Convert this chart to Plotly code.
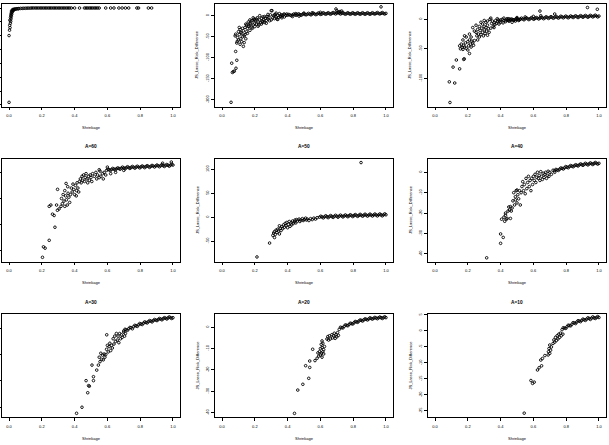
import plotly.graph_objects as go

# ---------------- data ----------------
titles = ["", "", "", "A=60", "A=50", "A=40", "A=30", "A=20", "A=10"]
x_label = "Shrinkage"
y_label = "JS_Lasso_Risk_Difference"

x_ticks = [0.0, 0.2, 0.4, 0.6, 0.8, 1.0]
x_tick_text = ["0.0", "0.2", "0.4", "0.6", "0.8", "1.0"]

# left column tick labels are outside the visible picture
y_ticks_p1 = [0, -100, -200, -300, -400, -500, -600, -700]
y_ticks_p2 = [0, -50, -100, -150, -200]
y_ticks_p3 = [0, -50, -100]
y_ticks_p4 = [0, -20, -40, -60]
y_ticks_p5 = [100, 50, 0, -50]
y_ticks_p6 = [0, -10, -20, -30, -40]
y_ticks_p7 = [0, -10, -20, -30]
y_ticks_p8 = [0, -10, -20, -30, -40]
y_ticks_p9 = [5, 0, -5, -10, -15, -20, -25]

# (shrinkage, risk difference) pairs
pts_p1 = [(0.0, -681), (0.0, -199), (0.003, -160), (0.006, -142), (0.004, -125), (0.008, -110),
          (0.01, -96), (0.005, -88), (0.012, -78), (0.009, -68), (0.014, -60), (0.011, -52),
          (0.016, -45), (0.013, -38), (0.018, -32), (0.02, -26), (0.015, -22), (0.024, -18),
          (0.021, -13), (0.028, -15), (0.026, -9), (0.032, -11), (0.036, -7), (0.042, -8),
          (0.048, -5), (0.055, -6), (0.06, -4), (0.07, -3), (0.08, -3), (0.09, -2), (0.1, -2),
          (0.11, -1), (0.12, -1), (0.13, -1), (0.14, 0), (0.15, 0), (0.16, 0), (0.17, 0),
          (0.18, 0), (0.19, 0), (0.2, 0), (0.21, 0), (0.22, 0), (0.23, 0), (0.24, 0), (0.25, 0),
          (0.26, 0), (0.27, 0), (0.28, 0), (0.29, 0), (0.3, 0), (0.31, 0), (0.32, 0), (0.33, 0),
          (0.34, 0), (0.35, 0), (0.36, 0), (0.37, 0), (0.38, 0), (0.40, 0), (0.43, 0), (0.46, 0),
          (0.47, 0), (0.48, 0), (0.49, 0), (0.50, 0), (0.51, 0), (0.52, 0), (0.53, 0), (0.54, 0),
          (0.55, 0), (0.59, 0), (0.62, 0), (0.64, 0), (0.67, 0), (0.69, 0), (0.71, 0), (0.73, 0),
          (0.78, 0), (0.79, 0), (0.85, 0), (0.87, 0)]

pts_p2 = [(0.055, -206), (0.059, -113), (0.063, -135), (0.069, -133), (0.075, -132), (0.085, -125),
          (0.09, -106), (0.083, -85), (0.08, -48), (0.083, -44), (0.09, -65), (0.093, -61),
          (0.095, -52), (0.1, -38), (0.1, -58), (0.105, -45), (0.11, -68), (0.11, -33),
          (0.115, -55), (0.12, -42), (0.12, -62), (0.125, -50), (0.13, -73), (0.13, -36),
          (0.135, -64), (0.14, -28), (0.14, -45), (0.145, -55), (0.15, -38), (0.15, -22),
          (0.155, -30), (0.16, -15), (0.165, -25), (0.17, -35), (0.17, -10), (0.175, -20),
          (0.18, -28), (0.185, -12), (0.19, -22), (0.195, -8), (0.2, -18), (0.2, -26),
          (0.205, -12), (0.21, -20), (0.215, -5), (0.22, -15), (0.225, -22), (0.23, 0),
          (0.23, -10), (0.235, -17), (0.24, -6), (0.245, -13), (0.25, -3), (0.255, -10),
          (0.26, -16), (0.265, -6), (0.27, -11), (0.275, -2), (0.28, -8), (0.285, -4),
          (0.29, -12), (0.295, 2), (0.30, 12), (0.305, 12), (0.31, -5), (0.315, 0), (0.32, -7),
          (0.325, 3), (0.33, -3), (0.335, -8), (0.34, 1), (0.345, -4), (0.35, 5), (0.355, -2),
          (0.36, 2), (0.365, -5), (0.37, 0), (0.375, 3), (0.38, -3), (0.39, 1), (0.395, 4),
          (0.105, -28), (0.115, -40), (0.125, -30), (0.135, -48), (0.145, -20), (0.155, -42),
          (0.16, -25), (0.17, -18), (0.18, -12), (0.185, -30), (0.19, -5), (0.2, -10), (0.21, -8),
          (0.22, -25), (0.24, -20), (0.25, -15), (0.26, -2), (0.27, -18), (0.28, 3), (0.3, -10),
          (0.32, 2), (0.34, -9), (0.36, -1), (0.38, 4), (0.33, 6),
          (0.40, 1), (0.415, 1.5), (0.43, 2), (0.445, 2), (0.46, 2.5), (0.475, 2.5), (0.49, 3),
          (0.505, 3), (0.52, 3.5), (0.535, 3.5), (0.55, 4), (0.565, 4), (0.58, 4), (0.595, 4.5),
          (0.61, 4.5), (0.625, 5), (0.64, 5), (0.655, 5), (0.67, 5.5), (0.685, 6), (0.70, 6),
          (0.715, 6), (0.73, 5.5), (0.745, 5), (0.76, 5), (0.775, 5), (0.79, 5), (0.805, 5),
          (0.82, 5), (0.835, 5), (0.85, 5), (0.865, 5), (0.88, 5), (0.895, 5), (0.91, 5),
          (0.925, 5), (0.94, 5.5), (0.955, 5.5), (0.97, 5.5), (0.985, 5.5), (1.0, 5.5),
          (0.4075, 3), (0.4225, 0), (0.4375, 4), (0.4525, 1), (0.4675, 4.5), (0.4825, 1),
          (0.4975, 5), (0.5125, 2), (0.5275, 5.5), (0.5425, 2), (0.5575, 6), (0.5725, 2.5),
          (0.5875, 6.5), (0.6025, 3), (0.6175, 7), (0.6325, 3.5), (0.6475, 7), (0.6625, 3.5),
          (0.6775, 7.5), (0.6925, 4), (0.7075, 8), (0.7225, 4), (0.7375, 7), (0.7525, 3.5),
          (0.7675, 7), (0.7825, 3.5), (0.7975, 7), (0.8125, 3.5), (0.8275, 7), (0.8425, 3.5),
          (0.8575, 7), (0.8725, 3.5), (0.8875, 7), (0.9025, 3.5), (0.9175, 7), (0.9325, 4),
          (0.9475, 7.5), (0.9625, 4), (0.9775, 7.5), (0.9925, 4),
          (0.695, 16), (0.70, 12), (0.72, 10), (0.73, 11), (0.71, 9), (0.97, 21), (0.5, 6),
          (0.55, 7), (0.6, 8), (0.45, 5), (0.43, -2), (0.47, -1)]

pts_p3 = [(0.091, -141), (0.087, -106), (0.12, -108), (0.11, -81), (0.13, -69), (0.15, -84),
          (0.175, -68), (0.178, -67), (0.21, -58), (0.15, -45), (0.155, -50), (0.16, -42),
          (0.165, -48), (0.17, -51), (0.175, -44), (0.18, -47), (0.185, -40), (0.19, -49),
          (0.18, -28), (0.21, -25), (0.2, -38), (0.205, -45), (0.21, -35), (0.215, -42),
          (0.22, -47), (0.225, -37), (0.23, -40), (0.235, -44), (0.24, -36), (0.23, -14),
          (0.25, -22), (0.255, -28), (0.26, -17), (0.265, -25), (0.27, -30), (0.275, -19),
          (0.28, -26), (0.285, -15), (0.29, -22), (0.295, -28), (0.30, -18), (0.305, -24),
          (0.31, -14), (0.315, -20), (0.32, -27), (0.325, -16), (0.33, -22), (0.29, -8),
          (0.30, -12), (0.31, -5), (0.32, -10), (0.335, 0), (0.34, -15), (0.345, -7), (0.35, -3),
          (0.355, -12), (0.36, -6), (0.365, -9), (0.37, -2), (0.375, -7), (0.38, -4), (0.385, -1),
          (0.39, -8), (0.395, -3), (0.40, -5), (0.41, 0), (0.415, -6), (0.42, -2), (0.43, -4),
          (0.44, 1), (0.45, -3), (0.46, 0), (0.47, -5), (0.48, -1), (0.49, -3), (0.50, 1),
          (0.51, -2), (0.52, 0),
          (0.17, -35), (0.19, -30), (0.2, -52), (0.22, -30), (0.24, -20), (0.25, -10), (0.26, -35),
          (0.27, -12), (0.28, -5), (0.3, -2), (0.32, -3), (0.34, 2), (0.36, -14), (0.38, 1),
          (0.4, -1), (0.42, 2), (0.45, 1),
          (0.43, -2), (0.445, -1.5), (0.46, -1), (0.475, -0.5), (0.49, 0),
          (0.505, 0), (0.52, 0.5), (0.535, 0.5), (0.55, 1), (0.565, 1), (0.58, 1), (0.595, 1.5),
          (0.61, 1.5), (0.625, 2), (0.64, 2), (0.655, 2.5), (0.67, 2.5), (0.685, 3), (0.70, 3),
          (0.715, 3), (0.73, 3.5), (0.745, 3.5), (0.76, 3.5), (0.775, 4), (0.79, 4), (0.805, 4),
          (0.82, 4), (0.835, 4.5), (0.85, 4.5), (0.865, 4.5), (0.88, 4.5), (0.895, 5), (0.91, 5),
          (0.925, 5), (0.94, 5), (0.955, 5.5), (0.97, 5.5), (0.985, 5.5), (1.0, 5.5),
          (0.4375, -0.3), (0.4525, -2.7), (0.4675, 0.5), (0.4825, -1.7), (0.4975, 1.5),
          (0.5125, -1.2), (0.5275, 2), (0.5425, -0.8), (0.5575, 2.5), (0.5725, -0.5),
          (0.5875, 2.8), (0.6025, 0), (0.6175, 3), (0.6325, 0.5), (0.6475, 3.5), (0.6625, 1),
          (0.6775, 4.2), (0.6925, 1.5), (0.7075, 4.5), (0.7225, 1.8), (0.7375, 5), (0.7525, 2),
          (0.7675, 5.2), (0.7825, 2.5), (0.7975, 5.5), (0.8125, 2.5), (0.8275, 5.7), (0.8425, 3),
          (0.8575, 6), (0.8725, 3), (0.8875, 6.2), (0.9025, 3.5), (0.9175, 6.5), (0.9325, 3.5),
          (0.9475, 6.7), (0.9625, 4), (0.9775, 7), (0.9925, 4),
          (0.64, 14), (0.73, 9), (0.645, 6), (0.93, 20), (0.99, 17), (0.5, 3), (0.55, 4), (0.6, 5)]

pts_p4 = [(0.204, -65), (0.21, -57), (0.22, -58), (0.245, -52), (0.28, -42), (0.245, -26),
          (0.255, -25), (0.265, -32), (0.275, -33), (0.295, -29), (0.305, -28), (0.317, -26),
          (0.296, -13), (0.29, -25), (0.32, -20), (0.325, -24), (0.33, -17), (0.335, -22),
          (0.34, -26), (0.345, -18), (0.35, -21), (0.355, -25), (0.36, -16), (0.365, -19),
          (0.37, -23), (0.375, -17), (0.348, -8.5), (0.358, -11), (0.34, -14), (0.38, -12),
          (0.385, -15), (0.39, -9), (0.395, -13), (0.40, -17), (0.405, -10), (0.41, -18),
          (0.412, -14), (0.415, -8), (0.42, -12), (0.425, -15), (0.43, -7), (0.435, -5),
          (0.44, -8), (0.445, -3), (0.45, -6), (0.455, -2), (0.46, -7), (0.465, -4), (0.47, -1),
          (0.475, -5), (0.48, -8), (0.485, -3), (0.49, -6), (0.495, -2), (0.50, -4), (0.505, -7),
          (0.51, -1), (0.52, -3), (0.53, 0), (0.535, -5), (0.54, -2), (0.55, -4), (0.555, 1),
          (0.56, -3), (0.57, -1), (0.575, -5), (0.58, 0), (0.59, -2), (0.595, 1.5), (0.61, 2),
          (0.625, 2.2), (0.64, 2.5), (0.655, 2.7), (0.67, 3), (0.685, 3.2), (0.70, 3.4),
          (0.715, 3.5), (0.73, 3.7), (0.745, 3.8), (0.76, 3.9), (0.775, 4), (0.79, 4.1),
          (0.805, 4.2), (0.82, 4.3), (0.835, 4.4), (0.85, 4.5), (0.865, 4.6), (0.88, 4.8),
          (0.895, 4.9), (0.91, 5), (0.925, 5.1), (0.94, 5.2), (0.955, 5.3), (0.97, 5.4),
          (0.985, 5.5), (1.0, 5.6),
          (0.6025, 2.4), (0.6175, 1.4), (0.6325, 3), (0.6475, 1.9), (0.6625, 3.4), (0.6775, 2.4),
          (0.6925, 4), (0.7075, 2.7), (0.7225, 4.3), (0.7375, 3), (0.7525, 4.5), (0.7675, 3.2),
          (0.7825, 4.7), (0.7975, 3.4), (0.8125, 4.9), (0.8275, 3.6), (0.8425, 5.1), (0.8575, 3.8),
          (0.8725, 5.3), (0.8875, 4.1), (0.9025, 5.6), (0.9175, 4.3), (0.9325, 5.8), (0.9475, 4.5),
          (0.9625, 6), (0.9775, 4.7), (0.9925, 6.2),
          (0.937, 7), (0.99, 7.9), (0.6, 4), (0.62, -1), (0.65, 0), (0.7, 1.5), (0.55, 2)]

pts_p5 = [(0.213, -83), (0.29, -54), (0.32, -42.5), (0.31, -38), (0.315, -33), (0.32, -30),
          (0.325, -36), (0.33, -27), (0.335, -32), (0.34, -25), (0.345, -29), (0.35, -35),
          (0.355, -23), (0.36, -28), (0.35, -18), (0.365, -20), (0.37, -24), (0.375, -16),
          (0.38, -21), (0.385, -13), (0.39, -18), (0.395, -11), (0.40, -22), (0.405, -15),
          (0.41, -9), (0.415, -19), (0.42, -12), (0.425, -16), (0.43, -8), (0.435, -13),
          (0.44, -10), (0.445, -6), (0.45, -12), (0.455, -5), (0.46, -8), (0.47, -4), (0.475, -9),
          (0.48, -6), (0.49, -3), (0.495, -7), (0.50, -5), (0.51, -2), (0.515, -6), (0.52, -4),
          (0.53, -7), (0.54, -3), (0.55, -5), (0.56, -2), (0.57, -4), (0.58, -1), (0.595, 0),
          (0.61, 0.5), (0.625, 0.8), (0.64, 1), (0.655, 1.3), (0.67, 1.5), (0.685, 1.8),
          (0.70, 2), (0.715, 2.2), (0.73, 2.4), (0.745, 2.6), (0.76, 2.8), (0.775, 3),
          (0.79, 3.2), (0.805, 3.4), (0.82, 3.6), (0.835, 3.8), (0.85, 4), (0.865, 4.1),
          (0.88, 4.2), (0.895, 4.3), (0.91, 4.4), (0.925, 4.5), (0.94, 4.6), (0.955, 4.7),
          (0.97, 4.8), (0.985, 4.9), (1.0, 5),
          (0.6025, 2), (0.6175, -1.5), (0.6325, 3), (0.6475, -1), (0.6625, 3.4), (0.6775, -0.5),
          (0.6925, 3.9), (0.7075, 0), (0.7225, 4.3), (0.7375, 0.5), (0.7525, 4.7), (0.7675, 1),
          (0.7825, 5.1), (0.7975, 1.3), (0.8125, 5.5), (0.8275, 1.7), (0.8425, 5.9), (0.8575, 2),
          (0.8725, 6.2), (0.8875, 2.2), (0.9025, 6.4), (0.9175, 2.4), (0.9325, 6.6), (0.9475, 2.6),
          (0.9625, 6.8), (0.9775, 2.8), (0.9925, 7),
          (0.848, 114)]

pts_p6 = [(0.315, -41.9), (0.40, -30.2), (0.40, -34.8), (0.416, -31.9), (0.406, -23), (0.42, -22),
          (0.425, -24), (0.43, -21), (0.435, -23), (0.44, -22.6), (0.46, -22.6), (0.43, -20),
          (0.445, -19), (0.45, -17), (0.455, -18.5), (0.46, -16.8), (0.465, -19), (0.47, -17.5),
          (0.475, -14), (0.48, -10), (0.485, -16), (0.49, -12), (0.495, -9), (0.50, -15),
          (0.505, -11), (0.51, -13), (0.515, -9), (0.52, -16), (0.50, -8.7), (0.49, -13.5),
          (0.525, -10), (0.53, -7), (0.535, -4.6), (0.54, -9), (0.545, -6), (0.55, -10.5),
          (0.555, -3), (0.56, -8), (0.565, -5), (0.57, -2), (0.575, -7), (0.58, -4), (0.585, -9),
          (0.59, -3), (0.595, -6), (0.60, -2), (0.605, -4), (0.61, -1), (0.615, -5), (0.62, -2.5),
          (0.625, 0), (0.63, -3), (0.635, -1.5), (0.64, -4), (0.645, 0.3), (0.65, -2),
          (0.655, -3.5), (0.66, -0.5), (0.665, -2.5), (0.67, -1), (0.675, 0), (0.68, -3),
          (0.685, -1.5), (0.69, 0.5), (0.695, -2), (0.70, 0), (0.71, -1), (0.72, 1), (0.73, 0),
          (0.73, 0.8), (0.745, 1.1), (0.76, 1.5), (0.775, 1.9), (0.79, 2.2), (0.805, 2.5),
          (0.82, 2.8), (0.835, 3.0), (0.85, 3.2), (0.865, 3.4), (0.88, 3.6), (0.895, 3.8),
          (0.91, 3.9), (0.925, 4.0), (0.94, 4.1), (0.955, 4.2), (0.97, 4.3), (0.985, 4.4),
          (1.0, 4.4),
          (0.7375, 1.4), (0.7525, 0.9), (0.7675, 2.1), (0.7825, 1.6), (0.7975, 2.8), (0.8125, 2.2),
          (0.8275, 3.3), (0.8425, 2.7), (0.8575, 3.7), (0.8725, 3.1), (0.8875, 4.1), (0.9025, 3.4),
          (0.9175, 4.4), (0.9325, 3.6), (0.9475, 4.6), (0.9625, 3.8), (0.9775, 4.8), (0.9925, 4.0)]

pts_p7 = [(0.412, -32.3), (0.445, -30), (0.48, -24.5), (0.47, -19.9), (0.485, -21.8), (0.49, -22),
          (0.515, -19.9), (0.515, -18.4), (0.506, -14), (0.535, -15.9), (0.545, -14), (0.55, -11),
          (0.555, -12.7), (0.56, -9.5), (0.565, -11.8), (0.57, -10.2), (0.575, -12), (0.58, -9.8),
          (0.585, -11), (0.59, -10), (0.595, -8), (0.60, -6.5), (0.605, -9), (0.61, -7),
          (0.615, -5.7), (0.62, -8.5), (0.625, -6.5), (0.63, -7.5), (0.596, -2.5), (0.635, -4),
          (0.64, -6), (0.645, -3), (0.65, -5), (0.655, -2), (0.66, -4.5), (0.665, -3), (0.67, -5.5),
          (0.675, -2), (0.68, -4), (0.685, -2.5), (0.69, -3.5), (0.70, -1.5), (0.705, -3),
          (0.71, -2), (0.70, -1.0), (0.715, -0.6), (0.73, -0.2), (0.745, 0.2), (0.76, 0.6),
          (0.775, 0.9), (0.79, 1.3), (0.805, 1.6), (0.82, 1.9), (0.835, 2.2), (0.85, 2.5),
          (0.865, 2.7), (0.88, 2.9), (0.895, 3.1), (0.91, 3.3), (0.925, 3.5), (0.94, 3.6),
          (0.955, 3.8), (0.97, 3.9), (0.985, 4.0), (1.0, 4.0),
          (0.7075, -0.4), (0.7225, -0.8), (0.7375, 0.3), (0.7525, -0.2), (0.7675, 1.1),
          (0.7825, 0.7), (0.7975, 1.8), (0.8125, 1.4), (0.8275, 2.4), (0.8425, 2.0), (0.8575, 2.9),
          (0.8725, 2.4), (0.8875, 3.3), (0.9025, 2.9), (0.9175, 3.7), (0.9325, 3.2), (0.9475, 4.0),
          (0.9625, 3.5), (0.9775, 4.3), (0.9925, 3.7)]

pts_p8 = [(0.442, -40.3), (0.462, -29.4), (0.493, -26.7), (0.529, -23.9), (0.51, -18), (0.535, -18.8),
          (0.535, -15.8), (0.553, -10.3), (0.567, -15.6), (0.58, -14.5), (0.585, -12), (0.59, -13.5),
          (0.595, -11.4), (0.60, -13), (0.605, -12), (0.61, -14), (0.615, -11.5), (0.62, -12.5),
          (0.60, -10), (0.605, -8), (0.61, -9.5), (0.615, -7.5), (0.62, -10.5), (0.625, -9),
          (0.61, -6.4), (0.645, -4.4), (0.64, -5.5), (0.65, -6), (0.655, -4), (0.66, -5.5),
          (0.67, -3.5), (0.675, -5), (0.68, -4), (0.685, -2.8), (0.69, -5.2), (0.695, -3.5),
          (0.70, -4.5), (0.705, -2.5), (0.71, -3.8), (0.715, -1), (0.73, -0.2), (0.745, 0.4),
          (0.76, 0.9), (0.775, 1.3), (0.79, 1.7), (0.805, 2.1), (0.82, 2.5), (0.835, 2.9),
          (0.85, 3.2), (0.865, 3.5), (0.88, 3.7), (0.895, 3.9), (0.91, 4.1), (0.925, 4.2),
          (0.94, 4.3), (0.955, 4.4), (0.97, 4.5), (0.985, 4.5), (1.0, 4.5),
          (0.7225, 0), (0.7375, -0.3), (0.7525, 1.1), (0.7675, 0.7), (0.7825, 1.9), (0.7975, 1.5),
          (0.8125, 2.7), (0.8275, 2.3), (0.8425, 3.4), (0.8575, 2.9), (0.8725, 3.9), (0.8875, 3.4),
          (0.9025, 4.4), (0.9175, 3.8), (0.9325, 4.6), (0.9475, 4.0), (0.9625, 4.8), (0.9775, 4.1),
          (0.9925, 4.9)]

pts_p9 = [(0.544, -25.7), (0.585, -15.5), (0.595, -16.4), (0.605, -16), (0.625, -12.2), (0.635, -11.5),
          (0.65, -10.9), (0.645, -9.1), (0.655, -8.6), (0.67, -7.7), (0.69, -7.5), (0.692, -6.5),
          (0.695, -5.5), (0.70, -7), (0.70, -4.4), (0.705, -6), (0.71, -5), (0.72, -3.9),
          (0.725, -2.8), (0.73, -3.5), (0.735, -2), (0.74, -3), (0.745, -1.5), (0.75, -2.5),
          (0.755, -1), (0.76, -2), (0.765, -0.7), (0.77, -1.5), (0.78, -1), (0.775, 0.4),
          (0.79, 0.9), (0.805, 1.3), (0.82, 1.7), (0.835, 2.1), (0.85, 2.5), (0.865, 2.8),
          (0.88, 3.1), (0.895, 3.3), (0.91, 3.5), (0.925, 3.7), (0.94, 3.9), (0.955, 4.0),
          (0.97, 4.1), (0.985, 4.2), (1.0, 4.2),
          (0.7825, 1.0), (0.7975, 0.8), (0.8125, 1.8), (0.8275, 1.6), (0.8425, 2.6), (0.8575, 2.3),
          (0.8725, 3.2), (0.8875, 2.9), (0.9025, 3.7), (0.9175, 3.3), (0.9325, 4.1), (0.9475, 3.6),
          (0.9625, 4.4), (0.9775, 3.9), (0.9925, 4.5)]

# ---------------- layout / styling ----------------
W, H = 609, 445
FONT = "Liberation Sans, Arial, Helvetica, sans-serif"

panels = [
    (pts_p1, [-711, 32.5], y_ticks_p1),
    (pts_p2, [-216, 29], y_ticks_p2),
    (pts_p3, [-147.8, 26.8], y_ticks_p3),
    (pts_p4, [-68.2, 10.6], y_ticks_p4),
    (pts_p5, [-92.5, 122.5], y_ticks_p5),
    (pts_p6, [-43.7, 6.75], y_ticks_p6),
    (pts_p7, [-33.7, 5.4], y_ticks_p7),
    (pts_p8, [-42.0, 6.2], y_ticks_p8),
    (pts_p9, [-26.9, 5.3], y_ticks_p9),
]

col_left = [2, 215, 428]
box_w = 178
row_top = [3.5, 158.5, 314]
box_h = 103

fig = go.Figure()
layout = dict(
    width=W, height=H, margin=dict(l=0, r=0, t=0, b=0),
    paper_bgcolor="white", plot_bgcolor="white", showlegend=False,
    font=dict(family=FONT, size=4, color="black"),
)
annotations = []


def px(x):
    return x / W


def py(y):
    return 1 - y / H


for i, (pts, yr, yt) in enumerate(panels):
    r, c = divmod(i, 3)
    s = "" if i == 0 else str(i + 1)
    x0 = col_left[c]
    y0 = row_top[r]
    xs = [p[0] for p in pts]
    ys = [p[1] for p in pts]
    fig.add_trace(go.Scatter(
        x=xs, y=ys, mode="markers", xaxis="x" + s, yaxis="y" + s,
        marker=dict(symbol="circle-open", size=2.6, color="black",
                    line=dict(width=0.9, color="black")),
        hoverinfo="skip"))
    common = dict(showline=True, mirror=True, linecolor="black", linewidth=0.8,
                  ticks="outside", ticklen=3, tickwidth=0.8, tickcolor="black",
                  showgrid=False, zeroline=False, automargin=False,
                  tickfont=dict(family=FONT, size=4, color="black"))
    layout["xaxis" + s] = dict(common, domain=[px(x0), px(x0 + box_w)], range=[-0.043, 1.043],
                               anchor="y" + s, tickvals=x_ticks, ticktext=x_tick_text,
                               ticklabelstandoff=2)
    # left-column tick labels fall outside the picture, as in the reference
    ylabels = [""] * len(yt) if c == 0 else [str(v) for v in yt]
    layout["yaxis" + s] = dict(common, domain=[py(y0 + box_h), py(y0)], range=yr,
                               anchor="x" + s, tickvals=yt, ticktext=ylabels,
                               tickangle=-90, ticklabelstandoff=1)
    cx = x0 + box_w / 2
    if titles[i]:
        annotations.append(dict(text="<b>%s</b>" % titles[i], x=px(cx), y=py(y0 - 12),
                                xref="paper", yref="paper", showarrow=False,
                                font=dict(family=FONT, size=4.8, color="black"),
                                xanchor="center", yanchor="middle"))
    annotations.append(dict(text=x_label, x=px(cx), y=py(y0 + box_h + 21),
                            xref="paper", yref="paper", showarrow=False,
                            font=dict(family=FONT, size=4, color="black"),
                            xanchor="center", yanchor="middle"))
    if c > 0:
        annotations.append(dict(text=y_label, x=px(x0 - 18), y=py(y0 + box_h / 2),
                                xref="paper", yref="paper", showarrow=False, textangle=-90,
                                font=dict(family=FONT, size=4, color="black"),
                                xanchor="center", yanchor="middle"))

layout["annotations"] = annotations
fig.update_layout(**layout)
fig.write_html("out.html")
